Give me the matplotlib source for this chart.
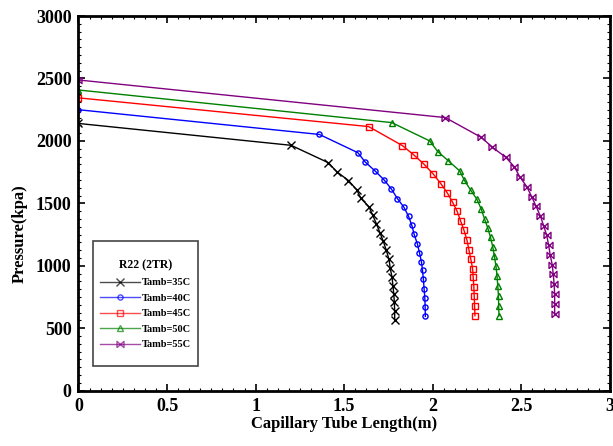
import matplotlib
matplotlib.use("Agg")
import matplotlib.pyplot as plt
from matplotlib.patches import Rectangle
from matplotlib.transforms import IdentityTransform
from matplotlib.ticker import MultipleLocator

# Tamb = 35C
len_35 = [0.0, 1.20, 1.41, 1.457, 1.524, 1.571, 1.594, 1.640, 1.661, 1.682, 1.702,
          1.721, 1.738, 1.753, 1.760, 1.770, 1.775, 1.780, 1.783, 1.785, 1.785]
p_35 = [2140, 1965, 1826, 1755, 1683, 1608, 1541, 1472, 1405, 1336, 1264,
        1195, 1123, 1051, 979, 909, 842, 774, 707, 635, 568]

# Tamb = 40C
len_40 = [0.0, 1.36, 1.577, 1.618, 1.674, 1.725, 1.766, 1.800, 1.837, 1.863, 1.882,
          1.895, 1.913, 1.925, 1.936, 1.942, 1.947, 1.951, 1.955, 1.957, 1.958]
p_40 = [2250, 2052, 1906, 1832, 1760, 1688, 1616, 1539, 1469, 1397, 1323,
        1251, 1176, 1104, 1032, 963, 891, 816, 744, 669, 595]

# Tamb = 45C
len_45 = [0.0, 1.638, 1.828, 1.893, 1.951, 2.002, 2.045, 2.082, 2.112, 2.138, 2.157,
          2.176, 2.193, 2.204, 2.215, 2.225, 2.228, 2.232, 2.234, 2.236, 2.238]
p_45 = [2345, 2115, 1963, 1888, 1813, 1736, 1659, 1584, 1509, 1435, 1360,
        1285, 1205, 1128, 1051, 976, 907, 830, 755, 678, 600]

# Tamb = 50C
len_50 = [0.0, 1.768, 1.983, 2.028, 2.086, 2.152, 2.178, 2.213, 2.249, 2.273, 2.292,
          2.311, 2.326, 2.339, 2.348, 2.357, 2.363, 2.367, 2.371, 2.372, 2.374]
p_50 = [2408, 2147, 2000, 1915, 1843, 1760, 1685, 1608, 1533, 1456, 1376,
        1301, 1227, 1149, 1075, 995, 915, 835, 755, 675, 600]

# Tamb = 55C
len_55 = [0.0, 2.071, 2.273, 2.337, 2.412, 2.461, 2.490, 2.530, 2.558, 2.582, 2.607,
          2.626, 2.643, 2.654, 2.663, 2.674, 2.680, 2.685, 2.688, 2.688, 2.688]
p_55 = [2488, 2187, 2029, 1949, 1869, 1792, 1715, 1635, 1555, 1480, 1400,
        1320, 1245, 1165, 1085, 1010, 933, 853, 776, 696, 616]

labels = ["Tamb=35C", "Tamb=40C", "Tamb=45C", "Tamb=50C", "Tamb=55C"]

bowtie = [(-1, -0.9), (-1, 0.9), (1, -0.9), (1, 0.9), (-1, -0.9)]

plt.rcParams["font.family"] = ["Liberation Serif", "DejaVu Serif"]
plt.rcParams["font.weight"] = "bold"

fig = plt.figure(figsize=(6.13, 4.46), dpi=100)
ax = fig.add_axes([0.128, 0.124, 0.867, 0.84])

series = [
    (len_35, p_35, "black", "x", 5.2, {}),
    (len_40, p_40, "blue", "o", 3.7, {"mfc": "none"}),
    (len_45, p_45, "red", "s", 4.6, {"mfc": "none"}),
    (len_50, p_50, "green", "^", 4.8, {"mfc": "none"}),
    (len_55, p_55, "purple", bowtie, 5, {"mfc": "none"}),
]
for (xs, ys, c, m, ms, kw), lab in zip(series, labels):
    ax.plot(xs, ys, color=c, marker=m, ms=ms, lw=1, mew=1, label=lab, **kw)

ax.set_xlim(0, 3)
ax.set_ylim(0, 3000)
ax.xaxis.set_major_locator(MultipleLocator(0.5))
ax.xaxis.set_minor_locator(MultipleLocator(0.0625))
ax.yaxis.set_major_locator(MultipleLocator(500))
ax.yaxis.set_minor_locator(MultipleLocator(62.5))
ax.set_xticks([0, 0.5, 1, 1.5, 2, 2.5, 3])
ax.set_xticklabels(["0", "0.5", "1", "1.5", "2", "2.5", "3"])
ax.tick_params(which="both", direction="in", top=True, right=True,
               labelsize=13, pad=5)
ax.tick_params(which="major", length=5, width=1.2)
ax.tick_params(which="minor", length=2.5, width=0.8)
for sp in ax.spines.values():
    sp.set_linewidth(2)

ax.set_xlabel("Capillary Tube Length(m)", fontsize=12, fontweight="bold", labelpad=1)
ax.set_ylabel("Pressure(kpa)", fontsize=12, fontweight="bold")
ax.yaxis.set_label_coords(-0.095, 0.42)

leg = ax.legend(title="R22 (2TR)", loc="lower left", bbox_to_anchor=(0.04, 0.11),
                borderaxespad=0, fontsize=7.5,
                title_fontproperties={"weight": "bold", "size": 8.5},
                frameon=False, handlelength=3.9, handletextpad=0.1,
                labelspacing=0.6, borderpad=0)
leg.get_title().set_ha("center")
for h in leg.legend_handles:
    h.set_alpha(0.7)

# hand-drawn frame with taller vertical padding than legend's own
fig.canvas.draw()
bb = leg.get_window_extent()
frame = Rectangle((bb.x0 - 7, bb.y0 - 17), bb.width + 14, bb.height + 36,
                  transform=IdentityTransform(), fill=False,
                  edgecolor="#444444", lw=1.2)
fig.add_artist(frame)

fig.savefig("out.png", dpi=100)
